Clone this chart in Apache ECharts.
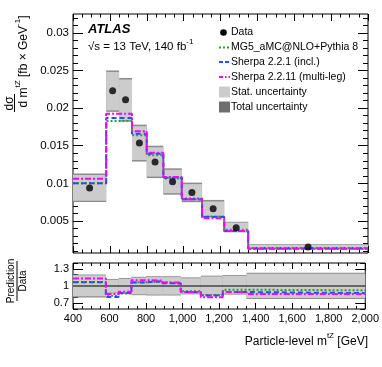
<!DOCTYPE html>
<html>
<head>
<meta charset="utf-8">
<script src="https://cdn.jsdelivr.net/npm/echarts@6/dist/echarts.min.js"></script>
<style>
html, body { margin: 0; padding: 0; background: #fff; }
#chart { width: 382px; height: 367px; }
</style>
</head>
<body>
<div id="chart"></div>
<script>
// bins of particle-level m(tZ) [GeV]
const binEdges = [400, 580, 650, 720, 800, 890, 990, 1100, 1220, 1350, 2000];

// main panel: dsigma / dm [fb/GeV]
const dataValues = [0.0094, 0.0223, 0.0211, 0.01537, 0.01285, 0.01023, 0.00878, 0.00664, 0.00412, 0.00155];
const totalLow = [0.00752, 0.0195, 0.0182, 0.0129, 0.0107, 0.0085, 0.0075, 0.0055, 0.0035, 0.0012];
const totalHigh = [0.0113, 0.0250, 0.0240, 0.0178, 0.0150, 0.0120, 0.0101, 0.0078, 0.0049, 0.0019];
const statLow = [0.0077, 0.0197, 0.0184, 0.0131, 0.0109, 0.0087, 0.0077, 0.0057, 0.0036, 0.0013];
const statHigh = [0.0111, 0.0248, 0.0238, 0.0176, 0.0148, 0.0118, 0.0099, 0.0076, 0.0048, 0.0018];
const mg5Values = [0.0100, 0.0183, 0.0183, 0.0164, 0.01375, 0.01066, 0.0080, 0.00556, 0.00385, 0.00143];
const sherpa221Values = [0.0100, 0.0187, 0.0187, 0.01659, 0.01394, 0.01075, 0.00788, 0.00553, 0.00368, 0.00136];
const sherpa2211Values = [0.01062, 0.01924, 0.01924, 0.01694, 0.01407, 0.01084, 0.00788, 0.00535, 0.00368, 0.00133];

// ratio panel: prediction / data
const ratioMg5 = [1.07, 0.83, 0.87, 1.067, 1.07, 1.04, 0.91, 0.84, 0.935, 0.925];
const ratioSherpa221 = [1.065, 0.81, 0.88, 1.063, 1.085, 1.05, 0.895, 0.835, 0.895, 0.876];
const ratioSherpa2211 = [1.13, 0.86, 0.90, 1.10, 1.095, 1.06, 0.895, 0.805, 0.895, 0.86];
const ratioTotalLow = [0.80, 0.87, 0.86, 0.84, 0.835, 0.835, 0.855, 0.84, 0.85, 0.775];
const ratioTotalHigh = [1.20, 1.12, 1.14, 1.16, 1.17, 1.17, 1.15, 1.18, 1.19, 1.23];
const ratioStatLow = [0.82, 0.885, 0.875, 0.855, 0.85, 0.85, 0.87, 0.855, 0.865, 0.79];
const ratioStatHigh = [1.185, 1.105, 1.125, 1.145, 1.155, 1.155, 1.135, 1.165, 1.175, 1.215];

// ticks
const yMainLabels = [0.005, 0.01, 0.015, 0.02, 0.025, 0.03];
const yRatioLabels = [0.7, 1, 1.3];
const yMainMinor = [];
for (let i = 1; i <= 32; i++) yMainMinor.push(+(i * 0.001).toFixed(3));
const yRatioMinor = [0.6, 0.7, 0.8, 0.9, 1.0, 1.1, 1.2, 1.3, 1.4];

const FONT = 'Liberation Sans';
const GREEN = '#2e9e2e';
const BLUE = '#1f4fff';
const MAGENTA = '#ff00ff';

const stepData = vals => {
  const d = vals.map((v, i) => [binEdges[i], v]);
  d.push([binEdges[vals.length], vals[vals.length - 1]]);
  return d;
};
const boxData = (lo, hi) => lo.map((v, i) => [binEdges[i], binEdges[i + 1], v, hi[i]]);

const boxSeries = (xi, yi, lo, hi, color, z) => ({
  type: 'custom',
  xAxisIndex: xi,
  yAxisIndex: yi,
  z: z,
  clip: true,
  silent: true,
  data: boxData(lo, hi),
  renderItem(params, api) {
    const p1 = api.coord([api.value(0), api.value(3)]);
    const p2 = api.coord([api.value(1), api.value(2)]);
    return {
      type: 'rect',
      shape: { x: p1[0], y: p1[1], width: p2[0] - p1[0], height: p2[1] - p1[1] },
      style: { fill: color },
    };
  },
});

const stepSeries = (xi, yi, vals, color, dash) => ({
  type: 'line',
  xAxisIndex: xi,
  yAxisIndex: yi,
  step: 'end',
  z: 3,
  symbol: 'none',
  silent: true,
  data: stepData(vals),
  lineStyle: { color: color, width: 2, type: dash },
});

const xAxisDef = (grid, pos, labels, len) => ({
  type: 'value',
  gridIndex: grid,
  position: pos,
  min: 400,
  max: 2000,
  interval: 200,
  axisLine: { show: false },
  splitLine: { show: false },
  axisTick: { show: true, inside: true, length: len, lineStyle: { color: '#000' } },
  minorTick: { show: true, splitNumber: 4, length: len / 2, lineStyle: { color: '#000' } },
  axisLabel: { show: labels, margin: 4, fontFamily: FONT, fontSize: 11, color: '#000' },
});

const yAxisDef = (grid, pos, min, max, ticks, len, labels) => ({
  type: 'value',
  gridIndex: grid,
  position: pos,
  min: min,
  max: max,
  axisLine: { show: false },
  splitLine: { show: false },
  axisTick: { show: true, inside: true, length: len, customValues: ticks, lineStyle: { color: '#000' } },
  axisLabel: labels ? {
    show: true, customValues: ticks, margin: 4, fontFamily: FONT, fontSize: grid === 0 ? 11.5 : 11, color: '#000',
    formatter: v => String(+(+v).toFixed(3)),
  } : { show: false },
});

const centers = binEdges.slice(0, -1).map((e, i) => (e + binEdges[i + 1]) / 2);

const txt = (x, y, text, size, extra) => Object.assign({
  type: 'text', x: x, y: y, silent: true,
  style: Object.assign({
    text: text, font: size + 'px ' + FONT, fill: '#000',
    align: 'left', verticalAlign: 'middle', textAlign: 'left', textVerticalAlign: 'middle',
  }, (extra && extra.style) || {}),
}, extra && extra.rotation ? { rotation: extra.rotation } : {});

const supRich = size => ({
  a: { fontFamily: FONT, fontSize: size, verticalAlign: 'bottom', lineHeight: size + 4 },
  s: { fontFamily: FONT, fontSize: Math.round(size * 0.68), verticalAlign: 'top', lineHeight: size + 4 },
});

const legendRows = [32.5, 47.5, 62, 77, 92, 107];
const legendX = 219, legendTextX = 231;

const chart = echarts.init(document.getElementById('chart'));
chart.setOption({
  animation: false,
  backgroundColor: '#fff',
  grid: [
    { left: 73, top: 14, right: 14, height: 239, show: true, borderColor: '#000', borderWidth: 1, backgroundColor: 'transparent' },
    { left: 73, top: 263, right: 14, height: 46, show: true, borderColor: '#000', borderWidth: 1, backgroundColor: 'transparent' },
  ],
  xAxis: [
    xAxisDef(0, 'bottom', false, 7),
    xAxisDef(0, 'top', false, 7),
    xAxisDef(1, 'bottom', true, 6),
    xAxisDef(1, 'top', false, 6),
  ],
  yAxis: [
    yAxisDef(0, 'left', 0.00075, 0.0325, yMainLabels, 10, true),
    yAxisDef(0, 'left', 0.00075, 0.0325, yMainMinor, 5, false),
    yAxisDef(0, 'right', 0.00075, 0.0325, yMainLabels, 10, false),
    yAxisDef(0, 'right', 0.00075, 0.0325, yMainMinor, 5, false),
    yAxisDef(1, 'left', 0.6, 1.4, yRatioLabels, 10, true),
    yAxisDef(1, 'left', 0.6, 1.4, yRatioMinor, 5, false),
    yAxisDef(1, 'right', 0.6, 1.4, yRatioLabels, 10, false),
    yAxisDef(1, 'right', 0.6, 1.4, yRatioMinor, 5, false),
  ],
  series: [
    boxSeries(0, 0, totalLow, totalHigh, '#8c8c8c', 1),
    boxSeries(0, 0, statLow, statHigh, '#cccccc', 2),
    stepSeries(0, 0, mg5Values, GREEN, [2, 2]),
    stepSeries(0, 0, sherpa221Values, BLUE, [5, 3]),
    stepSeries(0, 0, sherpa2211Values, MAGENTA, [6, 2, 2, 2]),
    {
      type: 'scatter', xAxisIndex: 0, yAxisIndex: 0, z: 5, silent: true,
      symbol: 'circle', symbolSize: 7,
      itemStyle: { color: '#000' },
      data: centers.map((c, i) => [c, dataValues[i]]),
    },
    boxSeries(2, 4, ratioTotalLow, ratioTotalHigh, '#8c8c8c', 1),
    boxSeries(2, 4, ratioStatLow, ratioStatHigh, '#cccccc', 2),
    {
      type: 'line', xAxisIndex: 2, yAxisIndex: 4, z: 3, symbol: 'none', silent: true,
      data: [[400, 1], [2000, 1]],
      lineStyle: { color: '#000', width: 1.2 },
    },
    stepSeries(2, 4, ratioMg5, GREEN, [2, 2]),
    stepSeries(2, 4, ratioSherpa221, BLUE, [5, 3]),
    stepSeries(2, 4, ratioSherpa2211, MAGENTA, [6, 2, 2, 2]),
  ],
  graphic: [
    // ATLAS label
    txt(88, 29.5, 'ATLAS', 13, { style: { font: 'italic bold 13px ' + FONT } }),
    txt(88, 45.5, '{a|√s = 13 TeV, 140 fb}{s|-1}', 11.5, { style: { rich: supRich(11.5) } }),

    // legend
    { type: 'circle', silent: true, shape: { cx: 223.5, cy: legendRows[0], r: 3.3 }, style: { fill: '#000' } },
    txt(legendTextX, legendRows[0], 'Data', 10.5),
    { type: 'line', silent: true, shape: { x1: legendX, y1: legendRows[1], x2: 230, y2: legendRows[1] }, style: { stroke: GREEN, lineWidth: 2, lineDash: [2, 2] } },
    txt(legendTextX, legendRows[1], 'MG5_aMC@NLO+Pythia 8', 10.5),
    { type: 'line', silent: true, shape: { x1: legendX, y1: legendRows[2], x2: 230, y2: legendRows[2] }, style: { stroke: BLUE, lineWidth: 2, lineDash: [4, 2] } },
    txt(legendTextX, legendRows[2], 'Sherpa 2.2.1 (incl.)', 10.5),
    { type: 'line', silent: true, shape: { x1: legendX, y1: legendRows[3], x2: 230, y2: legendRows[3] }, style: { stroke: MAGENTA, lineWidth: 2, lineDash: [4, 2, 1.5, 2] } },
    txt(legendTextX, legendRows[3], 'Sherpa 2.2.11 (multi-leg)', 10.5),
    { type: 'rect', silent: true, shape: { x: legendX, y: legendRows[4] - 5.5, width: 11, height: 11 }, style: { fill: '#cccccc' } },
    txt(legendTextX, legendRows[4], 'Stat. uncertainty', 10.5),
    { type: 'rect', silent: true, shape: { x: legendX, y: legendRows[5] - 5.5, width: 11, height: 11 }, style: { fill: '#6e6e6e' } },
    txt(legendTextX, legendRows[5], 'Total uncertainty', 10.5),

    // main y title
    txt(10, 103.5, 'dσ', 12, { rotation: Math.PI / 2, style: { align: 'center', textAlign: 'center' } }),
    { type: 'line', silent: true, shape: { x1: 14.5, y1: 94, x2: 14.5, y2: 112 }, style: { stroke: '#000', lineWidth: 1 } },
    txt(22, 61.5, '{a|d m}{s|tZ}{a| [fb × GeV}{s|-1}{a|]}', 12, { rotation: Math.PI / 2, style: { align: 'center', textAlign: 'center', rich: supRich(12) } }),

    // ratio y title
    txt(11, 281, 'Prediction', 10, { rotation: Math.PI / 2, style: { align: 'center', textAlign: 'center' } }),
    { type: 'line', silent: true, shape: { x1: 17, y1: 261, x2: 17, y2: 301 }, style: { stroke: '#000', lineWidth: 1 } },
    txt(23, 281, 'Data', 10, { rotation: Math.PI / 2, style: { align: 'center', textAlign: 'center' } }),

    // x title
    txt(368, 340, '{a|Particle-level m}{s|tZ}{a| [GeV]}', 12, { style: { align: 'right', textAlign: 'right', rich: supRich(12) } }),
  ],
});
</script>
</body>
</html>
